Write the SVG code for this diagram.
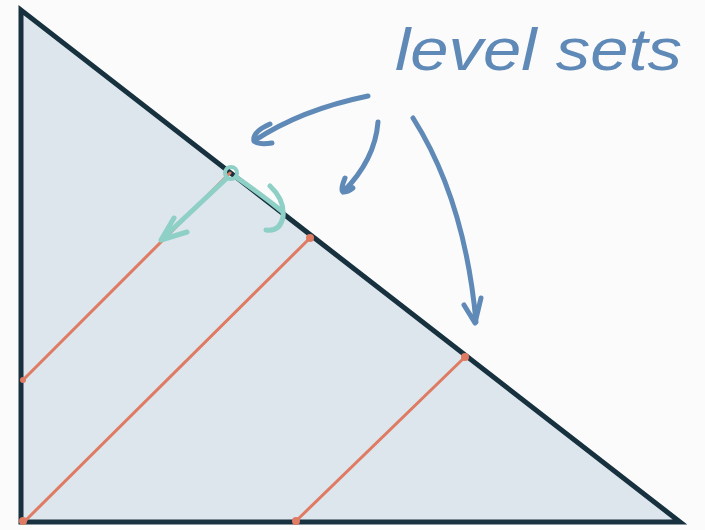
<svg xmlns="http://www.w3.org/2000/svg" width="705" height="530" viewBox="0 0 705 530">
<style>
.lvl{stroke:#df7b62;stroke-width:3;fill:none;stroke-linecap:round}
.dot{fill:#df7b62}
.blue{stroke:#5f89b6;stroke-width:5;fill:none;stroke-linecap:round;stroke-linejoin:round}
.teal{stroke:#8ecfc6;stroke-width:5;fill:none;stroke-linecap:round;stroke-linejoin:round}
.lbl{font-family:"Liberation Sans",sans-serif;font-style:italic;font-size:60px;fill:#5f89b6}
</style>
<rect width="705" height="530" fill="#fbfbfc"/>
<g id="triangle">
<path d="M21,10 L21,522 L680,522 Z" fill="#dde5ed" stroke="#17313f" stroke-width="5" stroke-linejoin="miter"/>
</g>
<g id="levelsets">
<line class="lvl" x1="230" y1="173" x2="23" y2="380"/>
<line class="lvl" x1="310" y1="238" x2="25" y2="521"/>
<line class="lvl" x1="465" y1="357" x2="296" y2="521"/>
<circle class="dot" cx="23" cy="380" r="3"/>
<circle class="dot" cx="23" cy="521" r="4"/>
<circle class="dot" cx="296" cy="521" r="4"/>
<circle class="dot" cx="310" cy="238" r="4"/>
<circle class="dot" cx="465" cy="357" r="4"/>
</g>
<g id="gradient-arrows">
<circle cx="231" cy="173" r="6" fill="none" stroke="#8ecfc6" stroke-width="4"/>
<path class="teal" d="M227,178 L161,240 M174,218 L161,240 L187,232"/>
<path class="teal" d="M236,177 Q262,195 283,212 M270,186 Q285,200 283,217 Q280,232 266,230"/>
</g>
<g id="label">
<text class="lbl" x="395" y="70" textLength="287" lengthAdjust="spacingAndGlyphs">level sets</text>
</g>
<g id="connectors">
<path class="blue" d="M368,96 Q300,110 254,141 M270,124 Q252,132 254,141 Q258,145 272,143"/>
<path class="blue" d="M378,122 Q375,160 343,192 M345,178 Q340,190 343,192 Q348,192 353,188"/>
<path class="blue" d="M413,118 Q465,200 476,322 M464,305 L475,323 L481,298"/>
</g>
</svg>
